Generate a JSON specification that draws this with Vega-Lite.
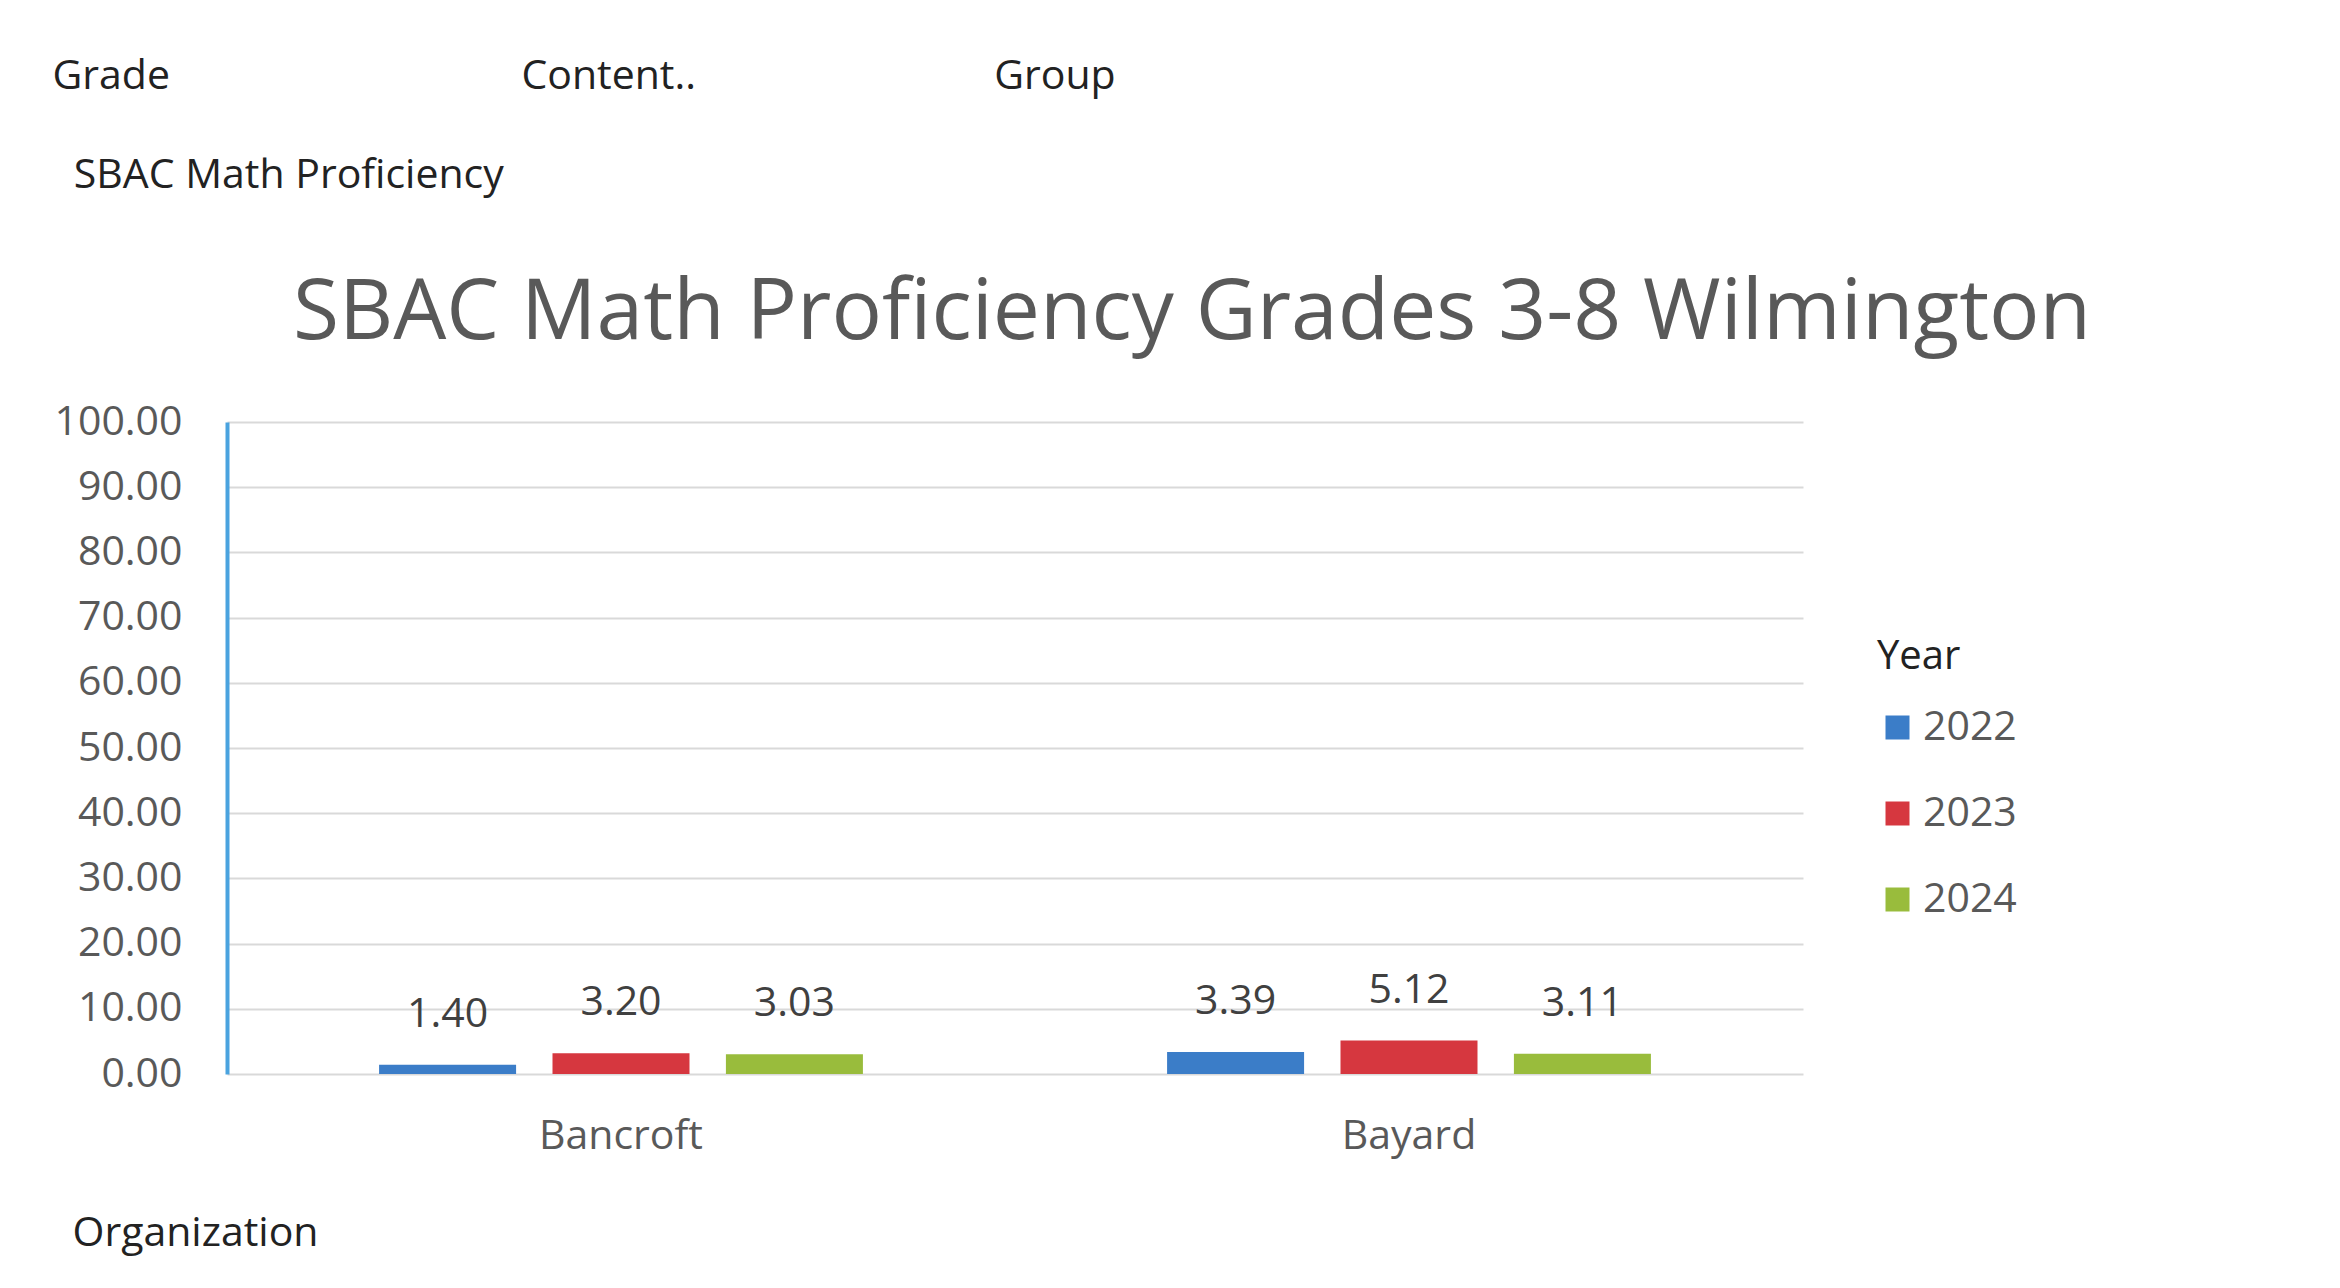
{
  "$schema": "https://vega.github.io/schema/vega-lite/v6.json",
  "width": 1576,
  "height": 652,
  "autosize": {"type": "none"},
  "padding": {"left": 227, "top": 422, "right": 537, "bottom": 214},
  "background": "white",
  "config": {
    "font": "Open Sans",
    "view": {"stroke": null}
  },
  "title": {
    "text": "SBAC Math Proficiency Grades 3-8 Wilmington",
    "font": "Open Sans",
    "fontSize": 84,
    "fontWeight": "normal",
    "color": "#595959",
    "anchor": "middle",
    "frame": "group",
    "baseline": "alphabetic",
    "dx": 177,
    "offset": -368
  },
  "data": {
    "values": [
      {"Organization": "Bancroft", "Year": "2022", "Proficiency": 1.40},
      {"Organization": "Bancroft", "Year": "2023", "Proficiency": 3.20},
      {"Organization": "Bancroft", "Year": "2024", "Proficiency": 3.03},
      {"Organization": "Bayard", "Year": "2022", "Proficiency": 3.39},
      {"Organization": "Bayard", "Year": "2023", "Proficiency": 5.12},
      {"Organization": "Bayard", "Year": "2024", "Proficiency": 3.11}
    ]
  },
  "encoding": {
    "x": {
      "field": "Organization",
      "type": "nominal",
      "scale": {"paddingInner": 0.386, "paddingOuter": 0.193},
      "axis": {
        "title": "Organization",
        "titleFont": "Open Sans",
        "titleFontSize": 41,
        "titleFontWeight": "normal",
        "titleColor": "#222222",
        "titleAnchor": "start",
        "titleAlign": "left",
        "titleBaseline": "middle",
        "titleX": -155,
        "titleY": 159,
        "labelAngle": 0,
        "labelFontSize": 41,
        "labelColor": "#595959",
        "labelPadding": 42,
        "ticks": false,
        "domain": false,
        "grid": false
      }
    },
    "xOffset": {
      "field": "Year",
      "type": "nominal",
      "scale": {"paddingInner": 0.21, "paddingOuter": 0}
    },
    "y": {
      "field": "Proficiency",
      "type": "quantitative",
      "scale": {"domain": [0, 100]},
      "axis": {
        "values": [0, 10, 20, 30, 40, 50, 60, 70, 80, 90, 100],
        "format": ".2f",
        "title": ["Grade\u00a0\u00a0\u00a0\u00a0\u00a0\u00a0\u00a0\u00a0\u00a0\u00a0\u00a0\u00a0\u00a0\u00a0\u00a0\u00a0\u00a0\u00a0\u00a0\u00a0\u00a0\u00a0\u00a0\u00a0\u00a0\u00a0\u00a0\u00a0\u00a0\u00a0\u00a0\u00a0\u00a0Content..\u00a0\u00a0\u00a0\u00a0\u00a0\u00a0\u00a0\u00a0\u00a0\u00a0\u00a0\u00a0\u00a0\u00a0\u00a0\u00a0\u00a0\u00a0\u00a0\u00a0\u00a0\u00a0\u00a0\u00a0\u00a0\u00a0\u00a0\u00a0Group", "\u200b\u00a0\u00a0SBAC Math Proficiency"],
        "titleFont": "Open Sans",
        "titleFontSize": 41,
        "titleFontWeight": "normal",
        "titleColor": "#222222",
        "titleAngle": 0,
        "titleAlign": "left",
        "titleBaseline": "top",
        "titleLineHeight": 99,
        "titleX": -175,
        "titleY": -366,
        "labelFontSize": 41,
        "labelColor": "#595959",
        "labelPadding": 45,
        "ticks": false,
        "domainColor": "#4aa3df",
        "domainWidth": 4,
        "gridColor": "#d9d9d9",
        "gridWidth": 2
      }
    }
  },
  "layer": [
    {
      "mark": {"type": "bar"},
      "encoding": {
        "color": {
          "field": "Year",
          "type": "nominal",
          "scale": {"domain": ["2022", "2023", "2024"], "range": ["#3b7dc8", "#d6373f", "#99bc3c"]},
          "legend": {
            "title": "Year",
            "orient": "none",
            "legendX": 1650,
            "legendY": 215,
            "titleFont": "Open Sans",
            "titleFontSize": 40,
            "titleFontWeight": "normal",
            "titleColor": "#222222",
            "titlePadding": 30,
            "symbolType": "square",
            "symbolSize": 576,
            "symbolStrokeWidth": 0,
            "labelFontSize": 41,
            "labelColor": "#595959",
            "labelOffset": 5,
            "rowPadding": 44
          }
        }
      }
    },
    {
      "mark": {"type": "text", "baseline": "middle", "dy": -50, "fontSize": 41, "color": "#404040"},
      "encoding": {
        "text": {"field": "Proficiency", "type": "quantitative", "format": ".2f"}
      }
    }
  ]
}
